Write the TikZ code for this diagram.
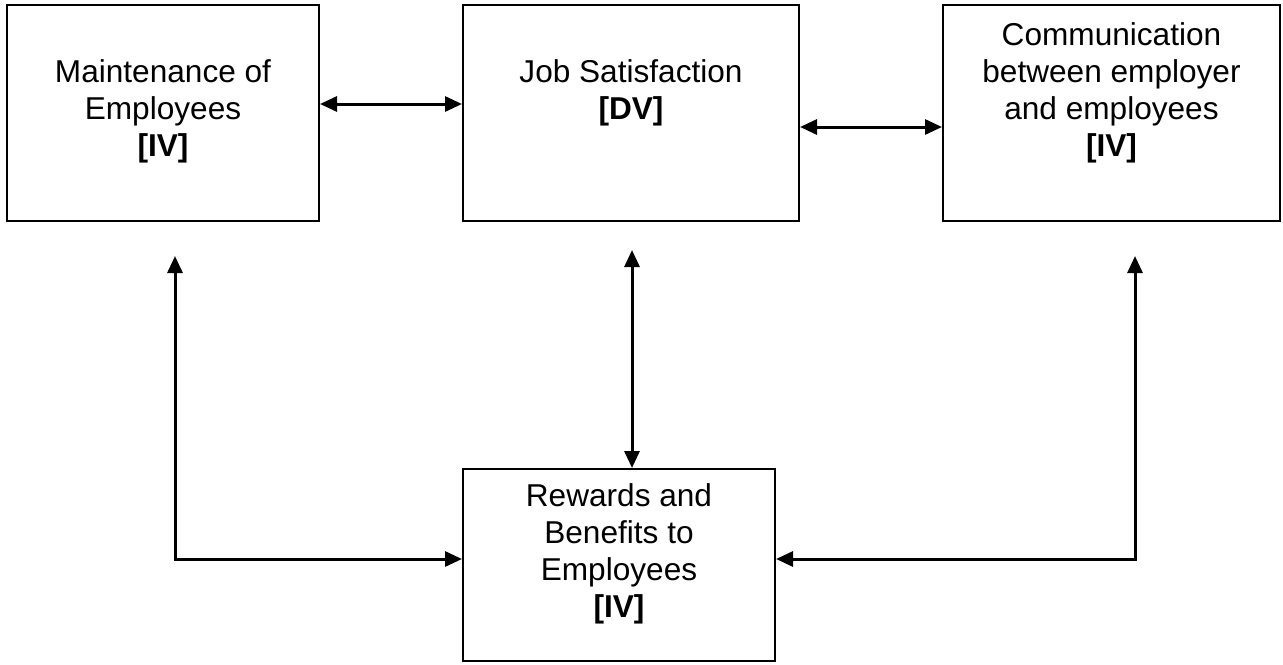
\documentclass[tikz,border=0pt]{standalone}
\usepackage{fontspec}
\setmainfont{Liberation Sans}
\usetikzlibrary{arrows.meta}
\begin{document}
\begin{tikzpicture}[x=0.5pt,y=-0.5pt,
  box/.style={draw, line width=1pt, inner sep=0pt},
  lbl/.style={inner sep=0pt, anchor=north, align=center, font=\fontsize{15.8pt}{18.5pt}\selectfont},
  tip/.tip={Triangle[length=8.5pt,width=7.5pt]},
  link/.style={line width=1.5pt, tip-tip}]
\useasboundingbox (0,0) rectangle (1283,664);
% boxes
\node[box, minimum width=156pt, minimum height=108pt] (A) at (163,113) {};
\node[box, minimum width=168pt, minimum height=108pt] (B) at (631,113) {};
\node[box, minimum width=168.5pt, minimum height=108pt] (C) at (1111.5,113) {};
\node[box, minimum width=156pt, minimum height=96pt] (D) at (619,565) {};
% texts
\node[lbl] (At) at ([yshift=-27.5pt]A.north) {Maintenance of\\Employees\\\textbf{[IV]}};
\node[lbl] (Bt) at ([yshift=-27.5pt]B.north) {Job Satisfaction\\\textbf{[DV]}};
\node[lbl] (Ct) at ([yshift=-9pt]C.north) {Communication\\between employer\\and employees\\\textbf{[IV]}};
\node[lbl] (Dt) at ([yshift=-7.5pt]D.north) {Rewards and\\Benefits to\\Employees\\\textbf{[IV]}};
% connectors
\draw[link] ([yshift=4.5pt]A.east) -- ([yshift=4.5pt]B.west);
\draw[link] ([yshift=-7pt]B.east) -- ([yshift=-7pt]C.west);
\draw[link] ([xshift=0.5pt,yshift=-14pt]B.south) -- ([xshift=0.5pt]B.south |- D.north);
\draw[link] ([xshift=6pt,yshift=-17pt]A.south) |- ([yshift=3pt]D.west);
\draw[link] ([xshift=11.75pt,yshift=-17pt]C.south) |- ([yshift=3pt]D.east);
\end{tikzpicture}
\end{document}
